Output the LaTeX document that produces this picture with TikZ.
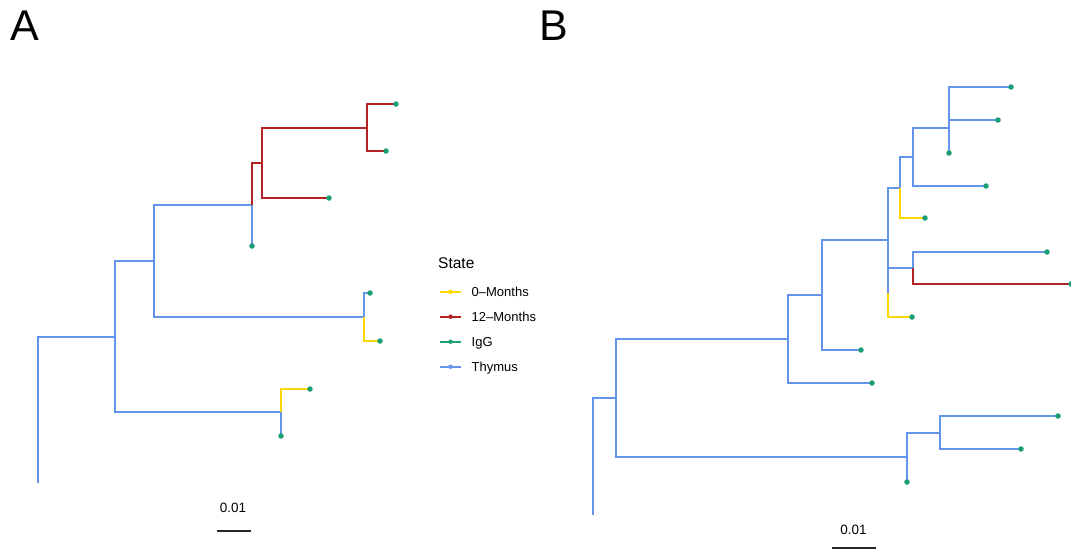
\documentclass[tikz,border=0pt]{standalone}
\usepackage{fontspec}
\setmainfont{Liberation Sans}
\definecolor{gold1}{RGB}{255, 215, 0}
\definecolor{red1}{RGB}{178, 34, 34}
\definecolor{green1}{RGB}{27, 158, 119}
\definecolor{blue1}{RGB}{100, 149, 237}

\begin{document}
\begin{tikzpicture}[x=1pt, y=-1pt,
  thy/.style={draw=blue1, line width=1.6pt},
  mon0/.style={draw=gold1, line width=1.6pt},
  mon12/.style={draw=red1, line width=1.6pt},
  tipdot/.style={circle, fill=green1, inner sep=0pt, minimum size=5.5pt},
  scalebar/.style={draw=black!85, line width=1.6pt},
  lbl/.style={inner sep=0pt, anchor=base}]
  \useasboundingbox (0,0) rectangle (1071,550);

  % panel labels
  \node[lbl, anchor=base west, font=\fontsize{43}{43}\selectfont] (labA) at (10,40) {A};
  \node[lbl, anchor=base west, font=\fontsize{43}{43}\selectfont] (labB) at (539,40) {B};

  % tree A
  \foreach \n/\x/\y in {rA/38/410, aE/38/483, a1/115/337, a2/154/261, a3/252/205, a4/262/163,
      a5/367/128, a6/364/317, a7/281/412,
      ta1/396/104, ta2/386/151, ta3/329/198, ta4/252/246, ta5/370/293, ta6/380/341,
      ta7/310/389, ta8/281/436}
    \coordinate (\n) at (\x,\y);
  \draw[thy] (rA) -- ++(-1.5,0) (rA) |- (a1) (rA) |- (aE) (a1) |- (a2) (a1) |- (a7)
    (a2) |- (a3) (a2) |- (a6) (a3) |- (ta4) (a6) |- (ta5) (a7) |- (ta8);
  \draw[mon12] (a3) |- (a4) (a4) |- (a5) (a4) |- (ta3) (a5) |- (ta1) (a5) |- (ta2);
  \draw[mon0] (a6) |- (ta6) (a7) |- (ta7);
  \foreach \t in {ta1,ta2,ta3,ta4,ta5,ta6,ta7,ta8}
    \node[tipdot] (dot-\t) at (\t) {};

  % tree B
  \foreach \n/\x/\y in {rB/593/457, bE/593/515, b1/616/398, b2/788/339, b3/822/295, b4/888/240,
      b5/900/188, b6/913/157, b7/949/128, b8/949/103, b9/888/293, b10/913/268,
      b11/907/457, b12/940/433,
      tb1/1011/87, tb2/998/120, tb3/949/153, tb4/986/186, tb5/925/218, tb6/1047/252,
      tb7/1071/284, tb8/912/317, tb9/861/350, tb10/872/383, tb11/1058/416,
      tb12/1021/449, tb13/907/482}
    \coordinate (\n) at (\x,\y);
  \draw[thy] (rB) -- ++(-1.5,0) (rB) |- (b1) (rB) |- (bE) (b1) |- (b2) (b1) |- (b11)
    (b2) |- (b3) (b2) |- (tb10) (b3) |- (b4) (b3) |- (tb9) (b4) |- (b5) (b4) |- (b9)
    (b5) |- (b6) (b6) |- (b7) (b6) |- (tb4) (b7) |- (b8) (b7) |- (tb3)
    (b8) |- (tb1) (b8) |- (tb2) (b9) |- (b10) (b10) |- (tb6)
    (b11) |- (b12) (b11) |- (tb13) (b12) |- (tb11) (b12) |- (tb12);
  \draw[mon0] (b5) |- (tb5) (b9) |- (tb8);
  \draw[mon12] (b10) |- (tb7);
  \foreach \t in {tb1,tb2,tb3,tb4,tb5,tb6,tb7,tb8,tb9,tb10,tb11,tb12,tb13}
    \node[tipdot] (dot-\t) at (\t) {};

  % scale bars
  \coordinate (sA1) at (217,531); \coordinate (sA2) at (251,531);
  \draw[scalebar] (sA1) -- (sA2);
  \node[lbl, font=\fontsize{13.5}{13.5}\selectfont] (scaleA) at (233,512) {0.01};
  \coordinate (sB1) at (832,548); \coordinate (sB2) at (876,548);
  \draw[scalebar] (sB1) -- (sB2);
  \node[lbl, font=\fontsize{13.5}{13.5}\selectfont] (scaleB) at (853.5,534) {0.01};

  % legend
  \node[lbl, anchor=base west, font=\fontsize{15.5}{15.5}\selectfont] (stateT) at (438,268) {State};
  \foreach \c/\t [count=\i] in {gold1/0--Months, red1/12--Months, green1/IgG, blue1/Thymus} {
    \pgfmathsetmacro\yy{291.7+25*(\i-1)}
    \coordinate (legL\i) at (440,\yy); \coordinate (legR\i) at (461,\yy);
    \draw[draw=\c, line width=1.7pt] (legL\i) -- (legR\i);
    \node[circle, fill=\c, inner sep=0pt, minimum size=4.5pt] (legD\i) at (450.5,\yy) {};
    \node[lbl, anchor=base west, font=\fontsize{13}{13}\selectfont] (legT\i) at (471.5,\yy+4.5) {\t};
  }
\end{tikzpicture}
\end{document}
